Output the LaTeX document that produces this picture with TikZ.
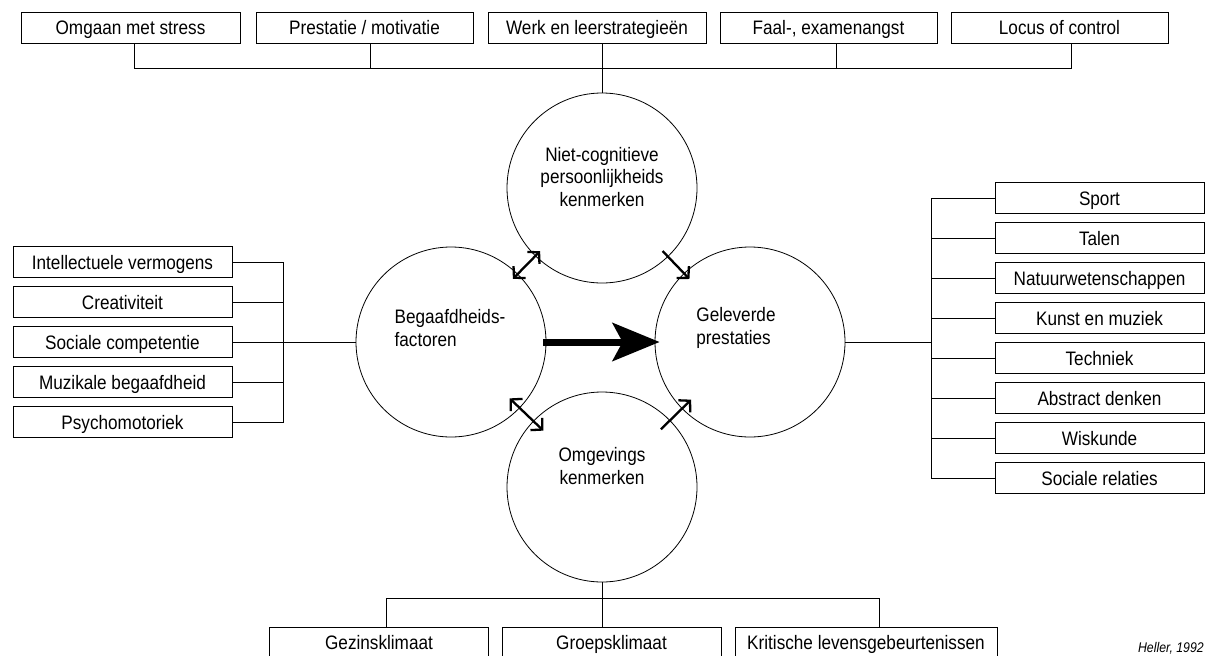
\documentclass[tikz,border=0pt]{standalone}
\usepackage{fontspec}
\setmainfont{Liberation Sans}[FakeStretch=0.88]
\usetikzlibrary{arrows.meta}

\begin{document}
\begin{tikzpicture}[x=1pt, y=-1pt,
    box/.style={rectangle, draw=black, line width=0.8pt, inner sep=0pt, minimum height=31pt, text height=15pt, text depth=1pt, font=\fontsize{19.5}{22}\selectfont},
    ring/.style={circle, draw=black, line width=0.8pt, minimum size=190pt, inner sep=0pt},
    ctext/.style={align=center, font=\fontsize{19.5}{22.5}\selectfont},
    ltext/.style={align=left, font=\fontsize{19.5}{22.5}\selectfont},
    link/.style={line width=0.8pt},
    dbl/.style={{Straight Barb[length=8pt,width=17pt]}-{Straight Barb[length=8pt,width=17pt]}, line width=2.3pt},
    sgl/.style={-{Straight Barb[length=8pt,width=17pt]}, line width=2.3pt},
    bigarrow/.style={-{Stealth[length=47pt,width=38pt,inset=10pt]}, line width=7pt}]
    \useasboundingbox (0,0) rectangle (1205,656);

    \node[box, minimum width=219pt] (stress) at (130.5,27.5) {Omgaan met stress};
    \node[box, minimum width=217pt] (motiv) at (364.5,27.5) {Prestatie / motivatie};
    \node[box, minimum width=218pt] (werk) at (597,27.5) {Werk en leerstrategieën};
    \node[box, minimum width=217pt] (faal) at (828.5,27.5) {Faal-, examenangst};
    \node[box, minimum width=217pt] (locus) at (1059.5,27.5) {Locus of control};

    \foreach \n/\t [count=\i] in {intel/Intellectuele vermogens, creat/Creativiteit, soc/Sociale competentie, muz/Muzikale begaafdheid, psy/Psychomotoriek}
        \node[box, minimum width=219pt] (\n) at (122.5, 222+40*\i) {\t};

    \foreach \n/\t [count=\i] in {sport/Sport, talen/Talen, natuur/Natuurwetenschappen, kunst/Kunst en muziek, techn/Techniek, abstr/Abstract denken, wisk/Wiskunde, relat/Sociale relaties}
        \node[box, minimum width=209pt] (\n) at (1099.5, 158+40*\i) {\t};

    \node[box, minimum width=219pt, anchor=north] (gezin) at (379,627) {Gezinsklimaat};
    \node[box, minimum width=219pt, anchor=north] (groep) at (611.5,627) {Groepsklimaat};
    \node[box, minimum width=262pt, anchor=north] (krit) at (866,627) {Kritische levensgebeurtenissen};

    \node[ring, label={[ctext, yshift=11pt]center:{Niet-cognitieve\\persoonlijkheids\\kenmerken}}] (niet) at (602,188) {};
    \node[ring, label={[ltext, xshift=-1pt, yshift=14pt]center:{Begaafdheids-\\factoren}}] (begaafd) at (451,342) {};
    \node[ring, label={[ltext, xshift=-14pt, yshift=14pt]center:{Geleverde\\prestaties}}] (prest) at (750,342) {};
    \node[ring, label={[ctext, yshift=21pt]center:{Omgevings\\kenmerken}}] (omgev) at (602,487) {};

    \node[font=\fontsize{14}{15}\selectfont\itshape, anchor=base east, inner sep=1pt] (bron) at (1205,652) {Heller, 1992};

    \coordinate (t1) at (134,68);
    \coordinate (t2) at (370,68);
    \coordinate (t4) at (836,68);
    \coordinate (t5) at (1071,68);
    \draw[link] (t1 |- stress.south) -- (t1) -- (t5) -- (t5 |- locus.south);
    \draw[link] (t2 |- motiv.south) -- (t2);
    \draw[link] (t4 |- faal.south) -- (t4);
    \draw[link] (niet.north |- werk.south) -- (niet.north);

    \coordinate (lb) at (283,342);
    \foreach \n in {intel,creat,soc,muz,psy}
        \draw[link] (\n.east) -| (lb);
    \draw[link] (lb) -- (begaafd.west);

    \coordinate (rb) at (931,342);
    \foreach \n in {sport,talen,natuur,kunst,techn,abstr,wisk,relat}
        \draw[link] (\n.west) -| (rb);
    \draw[link] (prest.east) -- (rb);

    \coordinate (b1) at (386,598);
    \coordinate (b3) at (879,598);
    \draw[link] (b1 |- gezin.north) -- (b1) -- (b3) -- (b3 |- krit.north);
    \draw[link] (omgev.south) -- (omgev.south |- groep.north);

    \draw[bigarrow, shorten <=-3pt, shorten >=-5pt] (begaafd) -- (prest);
    \draw[dbl, shorten <=-7pt, shorten >=-7pt] (begaafd) -- (niet);
    \draw[sgl, shorten <=-8pt, shorten >=-8pt] (niet) -- (prest);
    \draw[dbl, shorten <=-14pt, shorten >=-14pt] (begaafd) -- (omgev);
    \draw[sgl, shorten <=-13pt, shorten >=-13pt] (omgev) -- (prest);
\end{tikzpicture}
\end{document}
